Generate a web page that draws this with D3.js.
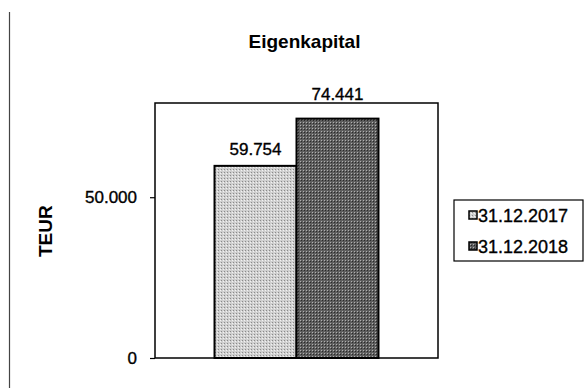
<!DOCTYPE html>
<html>
<head>
<meta charset="utf-8">
<script src="https://cdn.jsdelivr.net/npm/d3@7"></script>
<style>
  body { margin: 0; background: #ffffff; }
  svg  { display: block; font-family: Arial, 'Liberation Sans', sans-serif; }
  .scan { stroke: #000; stroke-width: 0.35px; }
</style>
</head>
<body>
<div id="chart"></div>
<script>
// The data...
var series     = [ '31.12.2017', '31.12.2018' ];
var values     = [ 59754, 74441 ];
var valueText  = [ '59.754', '74.441' ];
var tickValues = [ 0, 50000 ];
var tickLabels = [ '0', '50.000' ];
var yMax       = 79300;

var fills   = [ 'url(#patLight)', 'url(#patDark)' ];

var width  = 587, height = 388;
var margin = { top: 103, right: 149, bottom: 30, left: 155 };
var plotW  = width - margin.left - margin.right;
var plotH  = height - margin.top - margin.bottom;

var svg = d3.select ('#chart').append ('svg')
            .attr ('width', width)
            .attr ('height', height);

// halftone-ish patterns like the scanned picture
var defs = svg.append ('defs');
var patLight = defs.append ('pattern')
                   .attr ('id', 'patLight')
                   .attr ('width', 3).attr ('height', 3)
                   .attr ('patternUnits', 'userSpaceOnUse');
patLight.append ('rect').attr ('width', 3).attr ('height', 3).attr ('fill', '#cfcfcf');
patLight.append ('rect').attr ('x', 0).attr ('y', 0).attr ('width', 1).attr ('height', 1).attr ('fill', '#8a8a8a');
patLight.append ('rect').attr ('x', 2).attr ('y', 1).attr ('width', 1).attr ('height', 1).attr ('fill', '#f2f2f2');

var patDark = defs.append ('pattern')
                  .attr ('id', 'patDark')
                  .attr ('width', 3).attr ('height', 3)
                  .attr ('patternUnits', 'userSpaceOnUse');
patDark.append ('rect').attr ('width', 3).attr ('height', 3).attr ('fill', '#5e5e5e');
patDark.append ('rect').attr ('x', 1).attr ('y', 1).attr ('width', 1).attr ('height', 1).attr ('fill', '#b0b0b0');
patDark.append ('rect').attr ('x', 2).attr ('y', 2).attr ('width', 1).attr ('height', 1).attr ('fill', '#2a2a2a');

// page edge line on the left of the scan
svg.append ('line')
   .attr ('x1', 9.5).attr ('x2', 9.5)
   .attr ('y1', 12).attr ('y2', height)
   .attr ('stroke', '#444').attr ('stroke-width', 1.2);

// Title
svg.append ('text')
   .attr ('x', margin.left + plotW / 2 + 8)
   .attr ('y', 48)
   .attr ('text-anchor', 'middle')
   .attr ('font-size', '19px')
   .attr ('font-weight', 'bold')
   .text ('Eigenkapital');

var g = svg.append ('g')
           .attr ('transform', 'translate(' + margin.left + ',' + margin.top + ')');

var xScale = d3.scaleBand ()
               .domain (series)
               .range ([ 0, plotW ])
               .paddingInner (0)
               .paddingOuter (0.726);

var yScale = d3.scaleLinear ()
               .domain ([ 0, yMax ])
               .range ([ plotH, 0 ]);

// plot area frame
g.append ('rect')
 .attr ('x', 0).attr ('y', 0)
 .attr ('width', plotW).attr ('height', plotH)
 .attr ('fill', 'white')
 .attr ('stroke', '#000').attr ('stroke-width', 1.5);

// Y axis
var yAxis = d3.axisLeft (yScale)
              .tickValues (tickValues)
              .tickSize (5)
              .tickPadding (13)
              .tickFormat (function (d, i) { return tickLabels[i]; });

var ax = g.append ('g').attr ('class', 'y axis').call (yAxis);
ax.select ('.domain').remove ();
ax.selectAll ('line').attr ('stroke', '#000').attr ('stroke-width', 1.2);
ax.selectAll ('text')
  .attr ('class', 'scan')
  .attr ('font-size', '17px')
  .attr ('font-family', 'Arial, Liberation Sans, sans-serif')
  .attr ('fill', '#000');

// Y title
svg.append ('text')
   .attr ('transform', 'translate(52,' + (margin.top + yScale(50000) + 34) + ') rotate(-90)')
   .attr ('text-anchor', 'middle')
   .attr ('font-size', '19px')
   .attr ('font-weight', 'bold')
   .text ('TEUR');

// Bars
g.selectAll ('rect.bar')
 .data (values)
 .enter ()
 .append ('rect')
 .attr ('class', 'bar')
 .attr ('x',      function (d, i) { return xScale(series[i]); })
 .attr ('y',      function (d) { return yScale(d); })
 .attr ('width',  xScale.bandwidth ())
 .attr ('height', function (d) { return yScale(0) - yScale(d); })
 .attr ('fill',   function (d, i) { return fills[i]; })
 .attr ('stroke', '#000')
 .attr ('stroke-width', 2);

// value labels, pushed above the frame when they would hit it
g.selectAll ('text.val')
 .data (values)
 .enter ()
 .append ('text')
 .attr ('class', 'val scan')
 .attr ('x', function (d, i) { return xScale(series[i]) + xScale.bandwidth () / 2; })
 .attr ('y', function (d)
 {
     var y = yScale(d) - 11;
     return (y < 16) ? -3 : y;
 })
 .attr ('text-anchor', 'middle')
 .attr ('font-size', '17px')
 .text (function (d, i) { return valueText[i]; });

// Legend
var legend = svg.append ('g').attr ('transform', 'translate(454,200)');
legend.append ('rect')
      .attr ('width', 129).attr ('height', 61)
      .attr ('fill', 'white')
      .attr ('stroke', '#000').attr ('stroke-width', 1.2);

series.forEach (function (s, i)
{
    var row = legend.append ('g').attr ('transform', 'translate(15,' + (15 + i * 31) + ')');
    row.append ('rect')
       .attr ('x', 0).attr ('y', -4)
       .attr ('width', 8).attr ('height', 8)
       .attr ('fill', fills[i])
       .attr ('stroke', '#000').attr ('stroke-width', 1.5);
    row.append ('text')
       .attr ('class', 'scan')
       .attr ('x', 9).attr ('y', 6.5)
       .attr ('font-size', '18px')
       .text (s);
});
</script>
</body>
</html>
